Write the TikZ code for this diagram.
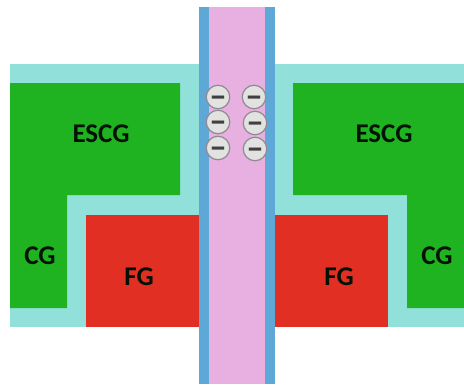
\documentclass[tikz,border=0pt]{standalone}
\usepackage{fontspec}
\setmainfont{Carlito}
\definecolor{teal1}{HTML}{92E0DA}
\definecolor{green1}{HTML}{1FB322}
\definecolor{red1}{HTML}{E13023}
\definecolor{blue1}{HTML}{5EA8D8}
\definecolor{pink1}{HTML}{E8B0E0}
\definecolor{chargefill}{HTML}{E2E2E0}
\definecolor{chargeline}{HTML}{908A92}
\tikzset{
  x=1pt,y=-1pt,
  oxide/.style={fill=teal1,draw=none},
  gate/.style={fill=green1,draw=none},
  floating/.style={fill=red1,draw=none},
  liner/.style={fill=blue1,draw=none},
  channel/.style={fill=pink1,draw=none},
  lbl/.style={font=\bfseries\fontsize{27}{27}\selectfont,text=black!90!green1,inner sep=0pt},
  charge/.style={circle,fill=chargefill,draw=chargeline,line width=1.2pt,minimum size=23.5pt,inner sep=0pt,
    font=\bfseries\fontsize{35}{35}\selectfont,text=black!75}
}
\newcommand{\minussign}{\raisebox{-0.29em}[0pt][0pt]{–}}
\begin{document}
\begin{tikzpicture}
\useasboundingbox (0,0) rectangle (464,384);
\fill[white] (0,0) rectangle (464,384);
% left side
\fill[oxide] (10,64) rectangle (199,327);
\fill[gate] (10,83) -- (180,83) -- (180,195) -- (67,195) -- (67,308) -- (10,308) -- cycle;
\fill[floating] (86,215) rectangle (199,327);
% right side
\fill[oxide] (275,64) rectangle (464,327);
\fill[gate] (464,83) -- (293,83) -- (293,195) -- (407,195) -- (407,308) -- (464,308) -- cycle;
\fill[floating] (275,215) rectangle (388,327);
% pillar
\fill[channel] (209,7) rectangle (265,384);
\fill[liner] (199,7) rectangle (209,384);
\fill[liner] (265,7) rectangle (275,384);
% labels
\node[lbl] (escgL) at (101,134) {ESCG};
\node[lbl] (escgR) at (384,134) {ESCG};
\node[lbl] (cgL) at (40,256) {CG};
\node[lbl] (cgR) at (437,256) {CG};
\node[lbl] (fgL) at (139,277) {FG};
\node[lbl] (fgR) at (339,277) {FG};
% charges
\node[charge] (e1) at (218,97) {\minussign};
\node[charge] (e2) at (254,97) {\minussign};
\node[charge] (e3) at (218,122) {\minussign};
\node[charge] (e4) at (255,123) {\minussign};
\node[charge] (e5) at (218,148) {\minussign};
\node[charge] (e6) at (255,149) {\minussign};
\end{tikzpicture}
\end{document}
